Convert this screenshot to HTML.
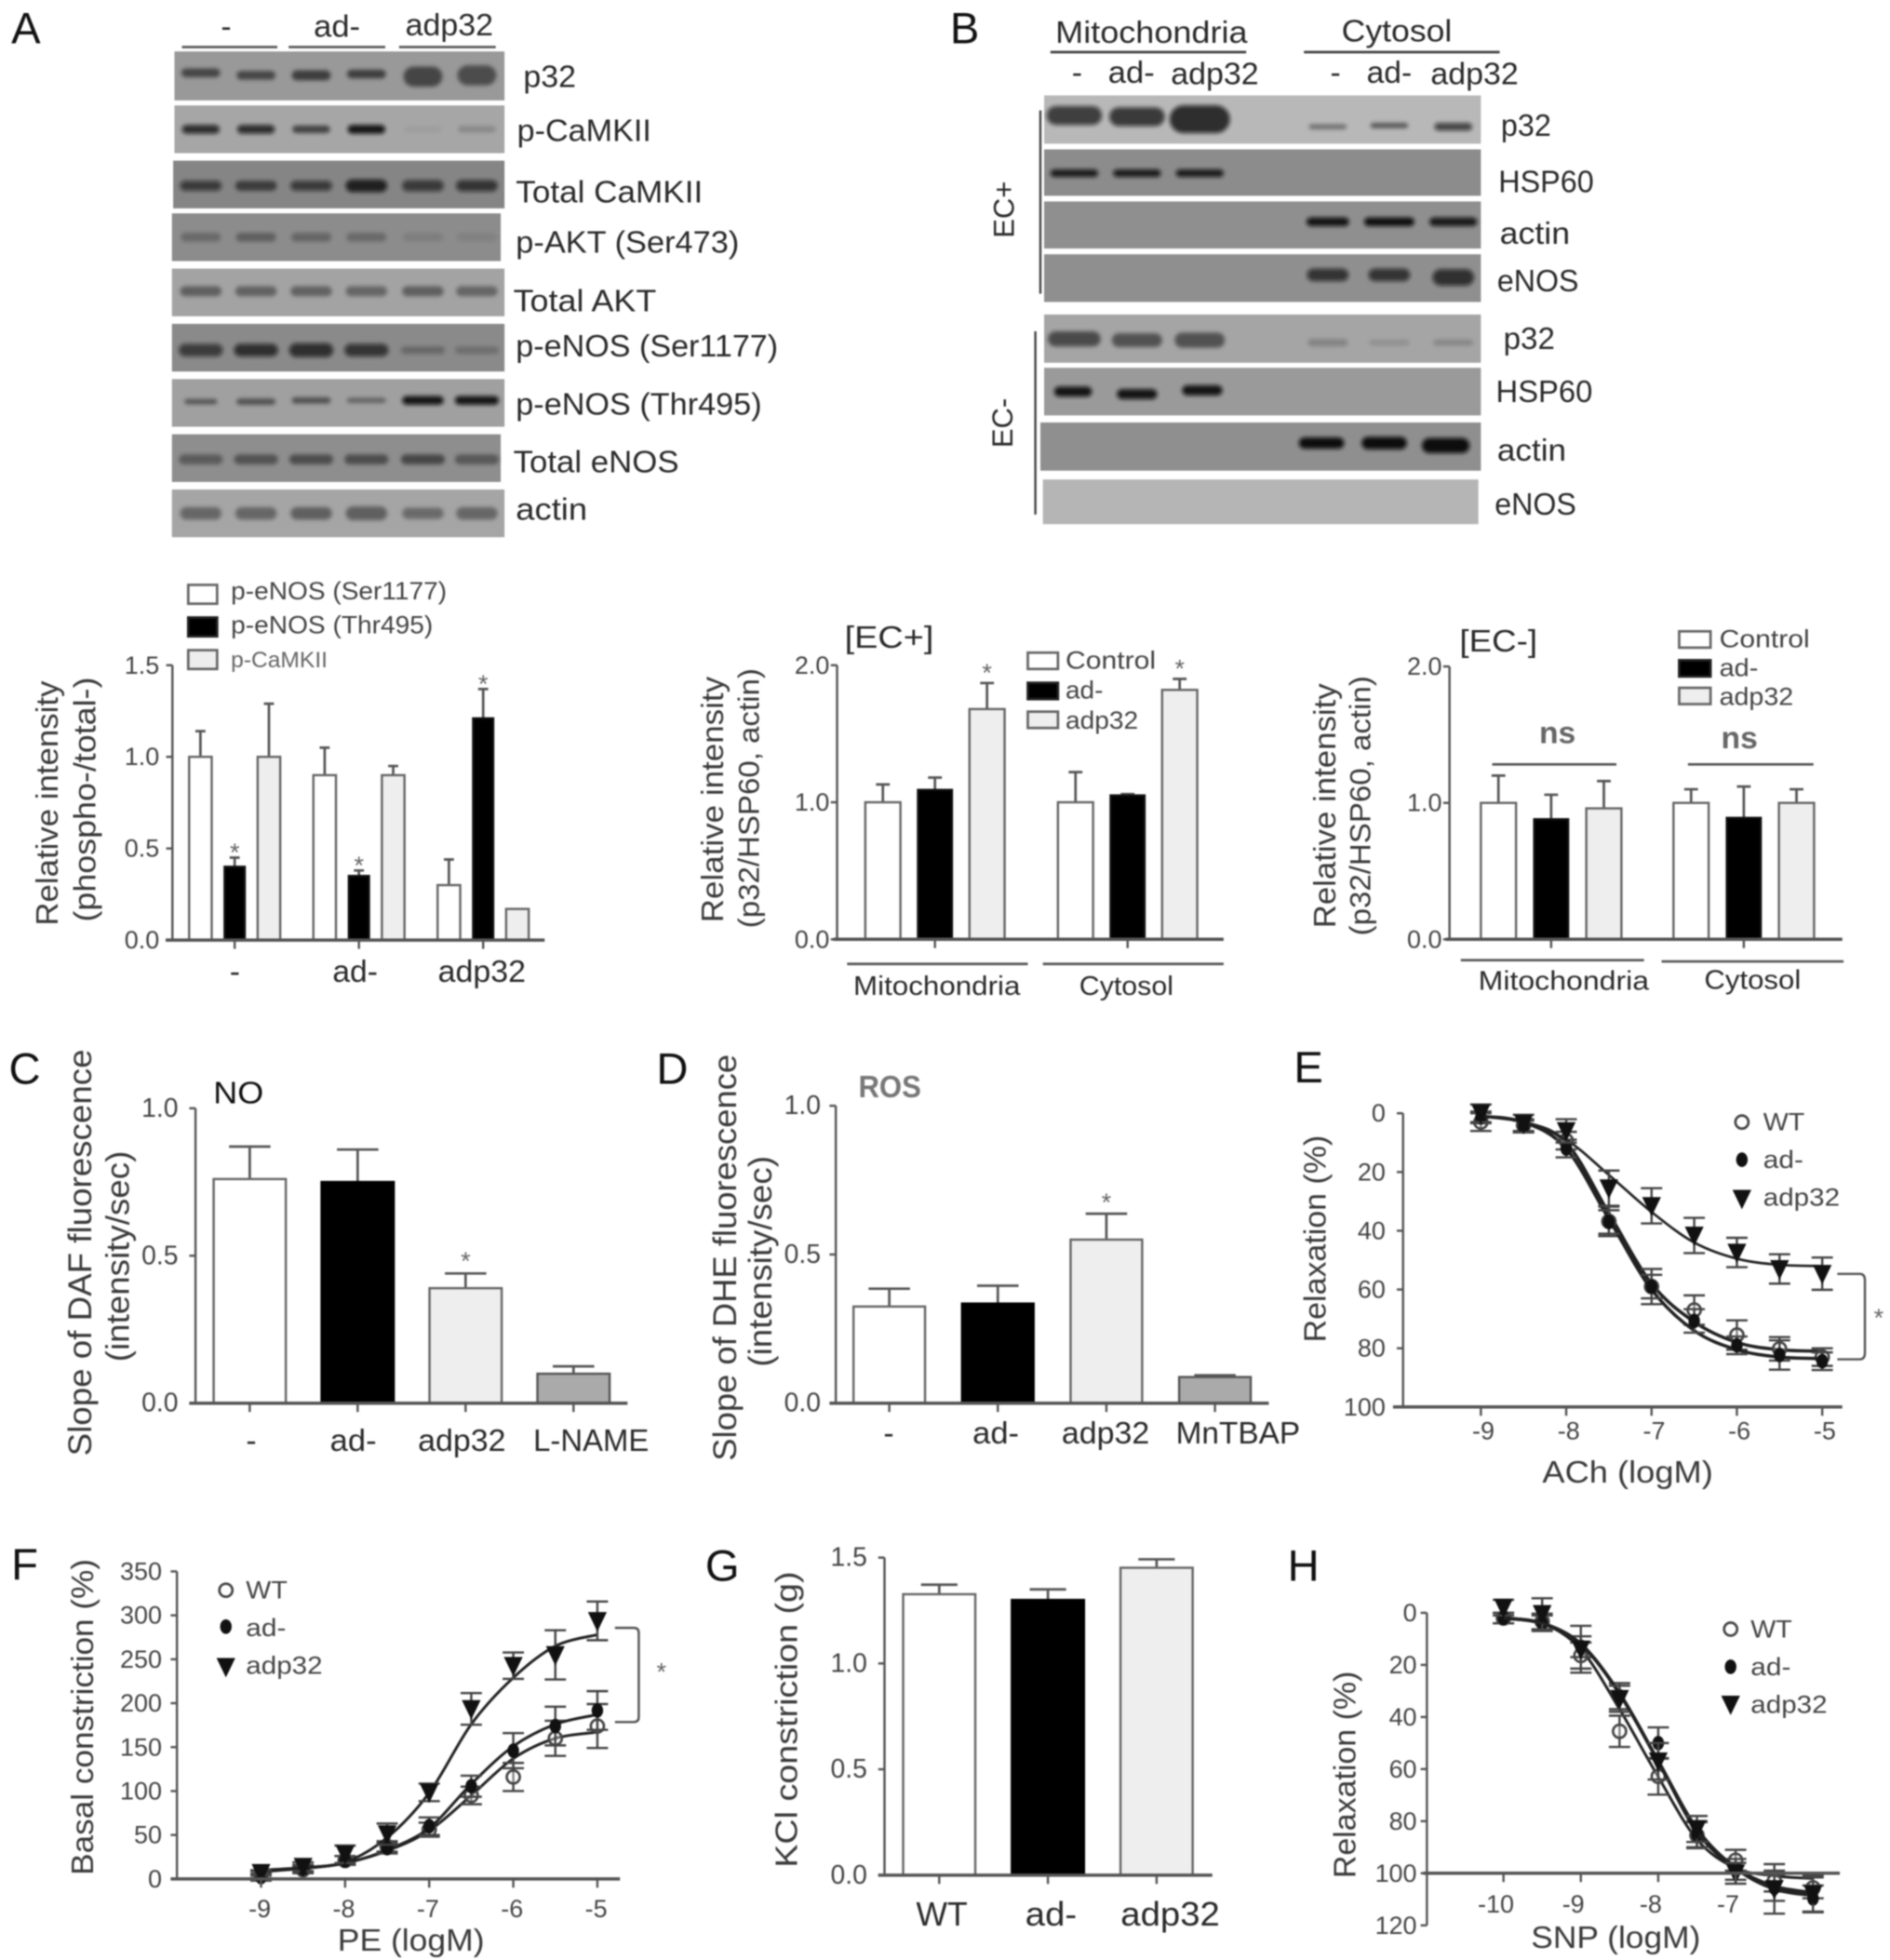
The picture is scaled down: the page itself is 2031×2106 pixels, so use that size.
<!DOCTYPE html>
<html lang="en">
<head>
<meta charset="utf-8">
<title>p32 signalling figure</title>
<style>
html,body{margin:0;padding:0;background:#fff}
#figure{display:block;width:2031px;height:2106px;filter:blur(.9px)}
text{font-family:"Liberation Sans",Arial,sans-serif;dominant-baseline:central;fill:#2a2a2a;font-size:25px}
.letter{font-size:35px;fill:#111}
.leg{font-size:20px;fill:#444}
.title{font-size:25px;fill:#3a3a3a}
</style>
</head>
<body>
<svg id="figure" xmlns="http://www.w3.org/2000/svg" viewBox="0 0 1506 1561.6" width="2031" height="2106">
<defs><filter id="bandBlur" x="-30%" y="-80%" width="160%" height="260%"><feGaussianBlur stdDeviation="1.6"/></filter></defs>
<rect width="1506" height="1562" fill="#fff"/>

<text class="letter" x="9" y="23">A</text>
<text class="letter" x="757" y="23">B</text>
<text class="letter" x="7" y="852">C</text>
<text class="letter" x="523" y="852">D</text>
<text class="letter" x="1031" y="851">E</text>
<text class="letter" x="9" y="1247">F</text>
<text class="letter" x="562" y="1248">G</text>
<text class="letter" x="1026" y="1248">H</text>

<g id="blots-a">
<text x="176" y="21">-</text>
<text x="250" y="21" textLength="37" lengthAdjust="spacingAndGlyphs">ad-</text>
<text x="323" y="20" textLength="70" lengthAdjust="spacingAndGlyphs">adp32</text>
<path d="M145 37.5H221M230 37.5H307M318 37.5H395" stroke="#555" stroke-width="2" fill="none"/>
<text x="417" y="61" textLength="42" lengthAdjust="spacingAndGlyphs">p32</text>
<text x="412" y="104" textLength="107" lengthAdjust="spacingAndGlyphs">p-CaMKII</text>
<text x="411" y="153" textLength="149" lengthAdjust="spacingAndGlyphs">Total CaMKII</text>
<text x="411" y="193" textLength="178" lengthAdjust="spacingAndGlyphs">p-AKT (Ser473)</text>
<text x="409" y="240" textLength="114" lengthAdjust="spacingAndGlyphs">Total AKT</text>
<text x="411" y="276" textLength="209" lengthAdjust="spacingAndGlyphs">p-eNOS (Ser1177)</text>
<text x="411" y="322" textLength="196" lengthAdjust="spacingAndGlyphs">p-eNOS (Thr495)</text>
<text x="409" y="368" textLength="132" lengthAdjust="spacingAndGlyphs">Total eNOS</text>
<text x="411" y="406" textLength="57" lengthAdjust="spacingAndGlyphs">actin</text>
</g>

<g id="blots-b">
<text x="841" y="26" textLength="153" lengthAdjust="spacingAndGlyphs">Mitochondria</text>
<text x="1069" y="25" textLength="88" lengthAdjust="spacingAndGlyphs">Cytosol</text>
<path d="M837 41.5H993M1039 41.5H1195" stroke="#444" stroke-width="2" fill="none"/>
<text x="854" y="58">-</text>
<text x="883" y="58" textLength="37" lengthAdjust="spacingAndGlyphs">ad-</text>
<text x="933" y="59" textLength="70" lengthAdjust="spacingAndGlyphs">adp32</text>
<text x="1060" y="58">-</text>
<text x="1089" y="58" textLength="36" lengthAdjust="spacingAndGlyphs">ad-</text>
<text x="1140" y="59" textLength="70" lengthAdjust="spacingAndGlyphs">adp32</text>
<text x="1196" y="100" textLength="40" lengthAdjust="spacingAndGlyphs">p32</text>
<text x="1194" y="145" textLength="76" lengthAdjust="spacingAndGlyphs">HSP60</text>
<text x="1195" y="186" textLength="56" lengthAdjust="spacingAndGlyphs">actin</text>
<text x="1193" y="224" textLength="65" lengthAdjust="spacingAndGlyphs">eNOS</text>
<text x="1198" y="270" textLength="41" lengthAdjust="spacingAndGlyphs">p32</text>
<text x="1192" y="312" textLength="77" lengthAdjust="spacingAndGlyphs">HSP60</text>
<text x="1193" y="359" textLength="55" lengthAdjust="spacingAndGlyphs">actin</text>
<text x="1191" y="402" textLength="65" lengthAdjust="spacingAndGlyphs">eNOS</text>
<path d="M829 88V234M825 264V410" stroke="#444" stroke-width="1.8" fill="none"/>
<text text-anchor="middle" transform="translate(800,167) rotate(-90)" font-size="23" style="font-size:23px">EC+</text>
<text text-anchor="middle" transform="translate(799,337) rotate(-90)" font-size="23" style="font-size:23px">EC-</text>
</g>

<g id="chart-a">
<text class="title" text-anchor="middle" transform="translate(38,640) rotate(-90)" textLength="195" lengthAdjust="spacingAndGlyphs">Relative intensity</text>
<text class="title" text-anchor="middle" transform="translate(68,637) rotate(-90)" textLength="195" lengthAdjust="spacingAndGlyphs">(phospho-/total-)</text>
<text x="183" y="774">-</text>
<text x="265" y="774" textLength="36" lengthAdjust="spacingAndGlyphs">ad-</text>
<text x="349" y="774" textLength="70" lengthAdjust="spacingAndGlyphs">adp32</text>
<rect x="150" y="466" width="23" height="15" fill="#fff" stroke="#666" stroke-width="2"/>
<rect x="150" y="492" width="23" height="15" fill="#000" stroke="#222" stroke-width="2"/>
<rect x="150" y="518" width="23" height="15" fill="#eee" stroke="#666" stroke-width="2"/>
<text class="leg" x="184" y="471" textLength="172" lengthAdjust="spacingAndGlyphs">p-eNOS (Ser1177)</text>
<text class="leg" x="184" y="498" textLength="161" lengthAdjust="spacingAndGlyphs">p-eNOS (Thr495)</text>
<text class="leg" x="184" y="526" textLength="77" lengthAdjust="spacingAndGlyphs" style="font-size:18px;fill:#666">p-CaMKII</text>
</g>

<g id="chart-ecp">
<text class="title" text-anchor="middle" transform="translate(568,637) rotate(-90)" textLength="196" lengthAdjust="spacingAndGlyphs">Relative intensity</text>
<text class="title" text-anchor="middle" transform="translate(597,636) rotate(-90)" textLength="207" lengthAdjust="spacingAndGlyphs" style="font-size:23px">(p32/HSP60, actin)</text>
<text x="673" y="508" textLength="71" lengthAdjust="spacingAndGlyphs">[EC+]</text>
<path d="M675 768H819M831 768H975" stroke="#555" stroke-width="2" fill="none"/>
<text x="680" y="786" textLength="133" lengthAdjust="spacingAndGlyphs" style="font-size:21px">Mitochondria</text>
<text x="860" y="786" textLength="75" lengthAdjust="spacingAndGlyphs" style="font-size:21px">Cytosol</text>
<rect x="819" y="520" width="24" height="13" fill="#fff" stroke="#666" stroke-width="2"/>
<rect x="819" y="544" width="24" height="13" fill="#000" stroke="#222" stroke-width="2"/>
<rect x="819" y="567" width="24" height="13" fill="#eee" stroke="#666" stroke-width="2"/>
<text class="leg" x="849" y="526" textLength="72" lengthAdjust="spacingAndGlyphs">Control</text>
<text class="leg" x="849" y="550" textLength="30" lengthAdjust="spacingAndGlyphs">ad-</text>
<text class="leg" x="849" y="574" textLength="58" lengthAdjust="spacingAndGlyphs">adp32</text>
</g>

<g id="chart-ecm">
<text class="title" text-anchor="middle" transform="translate(1056,642) rotate(-90)" textLength="195" lengthAdjust="spacingAndGlyphs">Relative intensity</text>
<text class="title" text-anchor="middle" transform="translate(1084,642) rotate(-90)" textLength="207" lengthAdjust="spacingAndGlyphs" style="font-size:23px">(p32/HSP60, actin)</text>
<text x="1163" y="511" textLength="62" lengthAdjust="spacingAndGlyphs">[EC-]</text>
<text x="1241" y="584" text-anchor="middle" style="fill:#666;font-weight:bold">ns</text>
<text x="1386" y="588" text-anchor="middle" style="fill:#666;font-weight:bold">ns</text>
<path d="M1189 609H1288M1345 609H1445" stroke="#555" stroke-width="2" fill="none"/>
<path d="M1164 765H1310M1324 766H1469" stroke="#555" stroke-width="2" fill="none"/>
<text x="1178" y="782" textLength="136" lengthAdjust="spacingAndGlyphs" style="font-size:21px">Mitochondria</text>
<text x="1358" y="781" textLength="77" lengthAdjust="spacingAndGlyphs" style="font-size:21px">Cytosol</text>
<rect x="1338" y="503" width="25" height="13" fill="#fff" stroke="#666" stroke-width="2"/>
<rect x="1338" y="526" width="25" height="13" fill="#000" stroke="#222" stroke-width="2"/>
<rect x="1338" y="548" width="25" height="13" fill="#eee" stroke="#666" stroke-width="2"/>
<text class="leg" x="1370" y="509" textLength="72" lengthAdjust="spacingAndGlyphs">Control</text>
<text class="leg" x="1370" y="532" textLength="31" lengthAdjust="spacingAndGlyphs">ad-</text>
<text class="leg" x="1370" y="555" textLength="59" lengthAdjust="spacingAndGlyphs">adp32</text>
</g>

<g id="chart-c">
<text class="title" text-anchor="middle" transform="translate(64,998) rotate(-90)" textLength="324" lengthAdjust="spacingAndGlyphs" style="font-size:26px">Slope of DAF fluorescence</text>
<text class="title" text-anchor="middle" transform="translate(94,1001) rotate(-90)" textLength="168" lengthAdjust="spacingAndGlyphs" style="font-size:26px">(intensity/sec)</text>
<text x="170" y="871" textLength="40" lengthAdjust="spacingAndGlyphs" style="fill:#111">NO</text>
<text x="196" y="1148">-</text>
<text x="263" y="1148" textLength="37" lengthAdjust="spacingAndGlyphs">ad-</text>
<text x="333" y="1148" textLength="70" lengthAdjust="spacingAndGlyphs">adp32</text>
<text x="425" y="1148" textLength="92" lengthAdjust="spacingAndGlyphs">L-NAME</text>
</g>

<g id="chart-d">
<text class="title" text-anchor="middle" transform="translate(578,1002) rotate(-90)" textLength="324" lengthAdjust="spacingAndGlyphs" style="font-size:26px">Slope of DHE fluorescence</text>
<text class="title" text-anchor="middle" transform="translate(606,1005) rotate(-90)" textLength="168" lengthAdjust="spacingAndGlyphs" style="font-size:26px">(intensity/sec)</text>
<text x="684" y="866" textLength="50" lengthAdjust="spacingAndGlyphs" style="fill:#777;font-weight:bold">ROS</text>
<text x="704" y="1142">-</text>
<text x="775" y="1142" textLength="37" lengthAdjust="spacingAndGlyphs">ad-</text>
<text x="846" y="1142" textLength="70" lengthAdjust="spacingAndGlyphs">adp32</text>
<text x="937" y="1142" textLength="99" lengthAdjust="spacingAndGlyphs">MnTBAP</text>
</g>

<g id="chart-e">
<text class="title" text-anchor="middle" transform="translate(1048,987) rotate(-90)" textLength="165" lengthAdjust="spacingAndGlyphs">Relaxation (%)</text>
<text class="title" x="1229" y="1173" textLength="136" lengthAdjust="spacingAndGlyphs">ACh (logM)</text>
<text class="leg" x="1405" y="894" textLength="33" lengthAdjust="spacingAndGlyphs">WT</text>
<text class="leg" x="1405" y="924" textLength="32" lengthAdjust="spacingAndGlyphs">ad-</text>
<text class="leg" x="1405" y="954" textLength="61" lengthAdjust="spacingAndGlyphs">adp32</text>
<path d="M1464 1015H1482Q1486 1015 1486 1020V1078Q1486 1083 1482 1083H1464" stroke="#555" stroke-width="1.8" fill="none"/>
<text x="1497" y="1050" text-anchor="middle" style="font-size:20px;fill:#666">*</text>
</g>

<g id="chart-f">
<text class="title" text-anchor="middle" transform="translate(66,1368) rotate(-90)" textLength="252" lengthAdjust="spacingAndGlyphs">Basal constriction (%)</text>
<text class="title" x="269" y="1546" textLength="117" lengthAdjust="spacingAndGlyphs">PE (logM)</text>
<text class="leg" x="196" y="1267" textLength="33" lengthAdjust="spacingAndGlyphs">WT</text>
<text class="leg" x="196" y="1297" textLength="32" lengthAdjust="spacingAndGlyphs">ad-</text>
<text class="leg" x="196" y="1327" textLength="61" lengthAdjust="spacingAndGlyphs">adp32</text>
<path d="M490 1297H505Q509 1297 509 1301V1368Q509 1372 505 1372H490" stroke="#555" stroke-width="1.8" fill="none"/>
<text x="527" y="1332" text-anchor="middle" style="font-size:20px;fill:#666">*</text>
</g>

<g id="chart-g">
<text class="title" text-anchor="middle" transform="translate(627,1370) rotate(-90)" textLength="236" lengthAdjust="spacingAndGlyphs">KCl constriction (g)</text>
<text x="730" y="1525" textLength="41" lengthAdjust="spacingAndGlyphs" style="font-size:27px">WT</text>
<text x="817" y="1525" textLength="41" lengthAdjust="spacingAndGlyphs" style="font-size:27px">ad-</text>
<text x="893" y="1525" textLength="79" lengthAdjust="spacingAndGlyphs" style="font-size:27px">adp32</text>
</g>

<g id="chart-h">
<text class="title" text-anchor="middle" transform="translate(1072,1414) rotate(-90)" textLength="165" lengthAdjust="spacingAndGlyphs">Relaxation (%)</text>
<text class="title" x="1220" y="1544" textLength="135" lengthAdjust="spacingAndGlyphs">SNP (logM)</text>
<text class="leg" x="1395" y="1298" textLength="33" lengthAdjust="spacingAndGlyphs">WT</text>
<text class="leg" x="1395" y="1328" textLength="32" lengthAdjust="spacingAndGlyphs">ad-</text>
<text class="leg" x="1395" y="1358" textLength="61" lengthAdjust="spacingAndGlyphs">adp32</text>
</g>
</svg>

<script>
/* ---------- chart data ---------- */
const aTickLabels = ['0.0','0.5','1.0','1.5'];
const aSer1177 = [1.0,0.9,0.3];
const aSer1177Err = [0.14,0.15,0.14];
const aThr495 = [0.4,0.35,1.21];
const aThr495Err = [0.05,0.03,0.16];
const aCaMKII = [1.0,0.9,0.17];
const aCaMKIIErr = [0.29,0.05,0];

const ecTickLabels = ['0.0','1.0','2.0'];
const ecpControl = [1.0,1.0];
const ecpControlErr = [0.13,0.22];
const ecpAd = [1.09,1.05];
const ecpAdErr = [0.09,0.01];
const ecpAdp32 = [1.68,1.82];
const ecpAdp32Err = [0.19,0.08];
const ecmControl = [1.0,1.0];
const ecmControlErr = [0.2,0.1];
const ecmAd = [0.88,0.89];
const ecmAdErr = [0.18,0.23];
const ecmAdp32 = [0.96,1.0];
const ecmAdp32Err = [0.2,0.1];

const cTickLabels = ['0.0','0.5','1.0'];
const cValues = [0.76,0.75,0.39,0.10];
const cErrors = [0.11,0.11,0.05,0.025];
const dTickLabels = ['0.0','0.5','1.0'];
const dValues = [0.325,0.335,0.55,0.088];
const dErrors = [0.06,0.06,0.087,0.006];
const gTickLabels = ['0.0','0.5','1.0','1.5'];
const gValues = [1.327,1.30,1.452];
const gErrors = [0.045,0.05,0.04];

const eYTickLabels = ['0','20','40','60','80','100'];
const eXTickLabels = ['-9','-8','-7','-6','-5'];
const eDoses = [-9,-8.5,-8,-7.5,-7,-6.5,-6,-5.5,-5];
const eWt = [3,4,9.3,36.8,59,67,75.5,80.2,83];
const eWtErr = [3,2,3,5,6,5,5,4,3];
const eWtFit = [1,3,10,34,58,71,78,80.5,81];
const eAd = [1.4,4.5,12,37,59,70.7,79,82.3,84.4];
const eAdErr = [2,2,3,4,4,4,3,5,3];
const eAdFit = [1,3,12,36,60,74,80.5,83,83.5];
const eAdp32 = [0,3.5,6,25.5,31.5,41.6,47.4,53,54.6];
const eAdp32Err = [3,3,4,6,6,6,5,5,5.5];
const eAdp32Fit = [1,3,9,21,33.6,44,49.5,51.6,52];

const fYTickLabels = ['0','50','100','150','200','250','300','350'];
const fXTickLabels = ['-9','-8','-7','-6','-5'];
const fDoses = [-9,-8.5,-8,-7.5,-7,-6.5,-6,-5.5,-5];
const fWt = [5,10.5,21,37,56,95,116,160,174];
const fWtErr = [4,4,5,6,8,10,16,20,25];
const fWtFit = [8,12,18,32,55,95,137,160,167];
const fAd = [2,12,21,35,60,105.5,146,174,191.7];
const fAdErr = [4,4,5,6,10,12,20,22,22];
const fAdFit = [9,12,18,33,58,108,151,176,187];
const fAdp32 = [7,14,28,51,98.5,193.5,242.7,255,293.7];
const fAdp32Err = [3,5,10,12,10,18,15,28,22];
const fAdp32Fit = [10,13,19,47,98,176,229,265,278];

const hYTickLabels = ['0','20','40','60','80','100','120'];
const hXTickLabels = ['-10','-9','-8','-7'];
const hDoses = [-10,-9.5,-9,-8.5,-8,-7.5,-7,-6.5,-6];
const hWt = [2,3.3,16.4,45.5,62.8,85.4,95,103,105.6];
const hWtErr = [2,3,5,6,7,5,4,4,4];
const hWtFit = [2,4,14,37,63,87,98,101,102];
const hAd = [2,4,13,32,50,85,98.5,105.6,109.7];
const hAdErr = [2,3,4,5,6,5,4,5,5];
const hAdFit = [2,4,12,31,57,83,98,106,108.5];
const hAdp32 = [-2,0.4,14,33,57,83,100,106,108];
const hAdp32Err = [3,6,9,5,7,5,4,9.5,7];
const hAdp32Fit = [2,4,12,31,57,84,98,105,107.5];

/* ---------- helpers ---------- */
const NS = 'http://www.w3.org/2000/svg';
function add(tag, attrs, parent){
  const n = document.createElementNS(NS, tag);
  for (const k in attrs) n.setAttribute(k, attrs[k]);
  parent.appendChild(n);
  return n;
}
function linear(d0, d1, r0, r1){ return v => r0 + (v - d0) / (d1 - d0) * (r1 - r0); }
const axisColor = '#555';

function yAxis(g, chart, x, y, labels, labelX, fs){
  const vals = labels.map(Number);
  const axis = add('line', {x1:x, x2:x, y1:y(Math.min(...vals)), y2:y(Math.max(...vals)), stroke:axisColor, 'stroke-width':1.8}, g);
  
  
  labels.forEach(lab => {
    const tick = add('line', {x1:x-5, x2:x, y1:y(Number(lab)), y2:y(Number(lab)), stroke:axisColor, 'stroke-width':1.8}, g);
    
    
    const t = add('text', {x:labelX, y:y(Number(lab)), 'text-anchor':'end', style:'font-size:'+fs+'px;fill:#444'}, g);
    t.textContent = lab;
    
    
  });
}
function xAxis(g, chart, y0, x1, x2, tickXs){
  const axis = add('line', {x1:x1, x2:x2, y1:y0, y2:y0, stroke:axisColor, 'stroke-width':2.6}, g);
  
  
  tickXs.forEach(tx => {
    const tick = add('line', {x1:tx, x2:tx, y1:y0, y2:y0+7, stroke:axisColor, 'stroke-width':1.8}, g);
    
    
  });
}
function bars(g, chart, series, values, errors, x, y, width, capW, fill, stroke){
  values.forEach((v, i) => {
    const cx = x(i), top = y(v + errors[i]);
    if (errors[i] > 0) {
      const err = add('path', {d:'M'+cx+' '+y(v)+'V'+top+'M'+(cx-capW/2)+' '+top+'H'+(cx+capW/2), stroke:'#555', 'stroke-width':2, fill:'none'}, g);
      
      
    }
    const b = add('rect', {x:cx-width/2, y:y(v), width:width, height:y(0)-y(v), fill:fill(i), stroke:stroke(i), 'stroke-width':1.8}, g);
    
    
  });
}
function star(g, chart, x, y){
  const s = add('text', {x:x, y:y+5, 'text-anchor':'middle', style:'font-size:20px;fill:#666'}, g);
  s.textContent = '*';
  
  
}
function smooth(pts){
  let d = 'M' + pts[0][0] + ' ' + pts[0][1];
  for (let i = 0; i < pts.length - 1; i++) {
    const p0 = pts[Math.max(i-1,0)], p1 = pts[i], p2 = pts[i+1], p3 = pts[Math.min(i+2,pts.length-1)];
    d += 'C' + (p1[0]+(p2[0]-p0[0])/6) + ' ' + (p1[1]+(p2[1]-p0[1])/6) + ' ' + (p2[0]-(p3[0]-p1[0])/6) + ' ' + (p2[1]-(p3[1]-p1[1])/6) + ' ' + p2[0] + ' ' + p2[1];
  }
  return d;
}
function marker(g, kind, x, y, chart){
  let m;
  if (kind === 'circle') m = add('circle', {cx:x, cy:y, r:5.2, fill:'#fff', 'fill-opacity':.35, stroke:'#444', 'stroke-width':2}, g);
  else if (kind === 'dot') m = add('ellipse', {cx:x, cy:y, rx:4.6, ry:5.8, fill:'#111'}, g);
  else m = add('path', {d:'M'+(x-7.5)+' '+(y-7)+'H'+(x+7.5)+'L'+x+' '+(y+8.5)+'Z', fill:'#111'}, g);
  
  
}
function doseSeries(g, chart, kind, doses, means, errs, fit, x, y, lw){
  const line = add('path', {d:smooth(doses.map((d,i)=>[x(d), y(fit[i])])), fill:'none', stroke:'#222', 'stroke-width':lw}, g);
  
  
  doses.forEach((d,i) => {
    const px = x(d), a = y(means[i]-errs[i]), b = y(means[i]+errs[i]);
    const e = add('path', {d:'M'+px+' '+a+'V'+b+'M'+(px-8.5)+' '+a+'H'+(px+8.5)+'M'+(px-8.5)+' '+b+'H'+(px+8.5), fill:'none', stroke:'#444', 'stroke-width':1.8}, g);
    
    
    marker(g, kind, px, y(means[i]), chart);
  });
}
function xTickLabels(g, chart, labels, x, labelY, dx){
  labels.forEach(lab => {
    const t = add('text', {x:x(Number(lab))+dx, y:labelY, 'text-anchor':'middle', style:'font-size:20px;fill:#444'}, g);
    t.textContent = lab;
    
    
  });
}
const byId = id => document.getElementById(id);

/* ---------- western blots ---------- */
function blot(parent, name, x, y, w, h, gray, lanes, cy, bw, bh, shade){
  const r = add('rect', {x:x, y:y, width:w, height:h, fill:gray}, parent);
  
  
  const layer = add('g', {filter:'url(#bandBlur)'}, parent);
  
  
  lanes.forEach((lx, i) => {
    const wi = Array.isArray(bw) ? bw[i] : bw, hi = Array.isArray(bh) ? bh[i] : bh;
    const cyi = Array.isArray(cy) ? cy[i] : cy;
    if (!(shade[i] > 0)) return;
    const b = add('rect', {x:lx-wi/2, y:cyi-hi/2, width:wi, height:hi, rx:hi/2, fill:'#0a0a0a', opacity:shade[i]}, layer);
    
    
  });
}
const lanesA = [160,204,248,292,337,380];
const A = byId('blots-a');
blot(A,'a-blot-p32',139,41,263,39,'#999999',lanesA,[58,60,60,59,61,60],31,[7,7,8,7,16,16],[.55,.55,.6,.6,.55,.5]);
blot(A,'a-blot-p-camkii',139,84,263,38,'#a6a6a6',lanesA,103,30,[7,7,6,7,4,5],[.8,.8,.6,.95,.06,.18]);
blot(A,'a-blot-total-camkii',138,128,264,38,'#858585',lanesA,148,33,[8,8,8,10,9,9],[.65,.55,.65,.85,.65,.7]);
blot(A,'a-blot-p-akt',137,170,262,38,'#8c8c8c',lanesA,189,32,7,[.25,.32,.28,.25,.1,.08]);
blot(A,'a-blot-total-akt',137,214,265,38,'#a3a3a3',lanesA,232,33,8,[.42,.4,.4,.38,.42,.38]);
blot(A,'a-blot-p-enos-ser',137,258,265,38,'#8a8a8a',lanesA,279,35,[10,10,11,10,6,6],[.65,.75,.75,.7,.25,.2]);
blot(A,'a-blot-p-enos-thr',137,302,265,38,'#a0a0a0',lanesA,[320,320,319,319,319,319],[26,31,31,31,33,35],[4,5,5,4,7,7],[.5,.5,.5,.4,.95,.95]);
blot(A,'a-blot-total-enos',137,346,262,38,'#8e8e8e',lanesA,366,35,8,[.36,.42,.46,.46,.5,.38]);
blot(A,'a-blot-actin',137,390,265,38,'#a5a5a5',lanesA,409,33,[10,10,10,11,9,10],[.38,.38,.42,.42,.36,.38]);

const lanesB = [856,906,956,1058,1107,1158];
const B = byId('blots-b');
blot(B,'b-blot-p32-ec-plus',832,76,348,38.5,'#b8b8b8',lanesB,[92,93,95,101,100,101],[44,44,48,30,30,30],[15,15,22,4,4,6],[.72,.75,.82,.4,.55,.7]);
blot(B,'b-blot-hsp60-ec-plus',832,119,348,37,'#8c8c8c',lanesB,138,38,6,[.9,.9,.9,0,0,0]);
blot(B,'b-blot-actin-ec-plus',832,160.5,348,37.5,'#8f8f8f',lanesB,176.7,[36,36,36,34,40,38],7,[0,0,0,.95,.98,.9]);
blot(B,'b-blot-enos-ec-plus',832,202.6,348,38,'#8f8f8f',lanesB,[220,220,220,219,219,221],33,[0,0,0,10,10,13],[0,0,0,.72,.72,.75]);
blot(B,'b-blot-p32-ec-minus',832,250.6,348,38.4,'#a5a5a5',lanesB,[270,271,271,273,273,273],[42,40,40,32,32,32],[12,11,12,6,5,5],[.55,.5,.5,.2,.12,.18]);
blot(B,'b-blot-hsp60-ec-minus',832,293,348,38,'#9a9a9a',[855,906,958],[312,314,311],[30,32,32],8,[.95,.95,.95]);
blot(B,'b-blot-actin-ec-minus',829,336.6,351,38.4,'#8f8f8f',[1053,1103,1152],[353,353,355],[36,36,38],[9,10,12],[1,1,1]);
blot(B,'b-blot-enos-ec-minus',831,382,347,35.6,'#b5b5b5',[],0,0,0,[]);

/* ---------- panel A bars ---------- */
(function(){
  const g = byId('chart-a');
  const y = linear(0,1.5,749,530);
  const x = s => i => 187 + 99*i + 27.3*(s-1);
  const white = () => '#fff', black = () => '#000', light = () => '#eee';
  const gs = () => '#666', bs = () => '#111';
  bars(g,'a','ser1177',aSer1177,aSer1177Err,x(0),y,18,8,white,gs);
  bars(g,'a','thr495',aThr495,aThr495Err,x(1),y,16,8,black,bs);
  bars(g,'a','camkii',aCaMKII,aCaMKIIErr,x(2),y,18,8,light,gs);
  yAxis(g,'a',137.4,y,aTickLabels,127,20);
  xAxis(g,'a',y(0),132,434,aSer1177.map((_,i)=>x(1)(i)));
  aThr495.forEach((v,i)=>star(g,'a',x(1)(i),y(v+aThr495Err[i])-9));
})();

/* ---------- EC+ / EC- bars ---------- */
function ecChart(id, name, axisX, xEnd, cx0, slot, ctl, ctlE, ad, adE, adp, adpE, yTop){
  const g = byId(id);
  const y = linear(0,2,748.4,yTop);
  const x = s => i => cx0 + 153.5*i + slot*(s-1);
  bars(g,name,'control',ctl,ctlE,x(0),y,28,11,()=>'#fff',()=>'#666');
  bars(g,name,'ad',ad,adE,x(1),y,27,11,()=>'#000',()=>'#111');
  bars(g,name,'adp32',adp,adpE,x(2),y,28,11,()=>'#eee',()=>'#666');
  yAxis(g,name,axisX,y,ecTickLabels,axisX-6,20);
  xAxis(g,name,y(0),axisX-3,xEnd,ctl.map((_,i)=>x(1)(i)));
  return {g:g,x:x,y:y};
}
const ecp = ecChart('chart-ecp','ecp',667,975,745,41.5,ecpControl,ecpControlErr,ecpAd,ecpAdErr,ecpAdp32,ecpAdp32Err,530);
ecpAdp32.forEach((v,i)=>star(ecp.g,'ecp',ecp.x(2)(i),ecp.y(v+ecpAdp32Err[i])-13));
ecChart('chart-ecm','ecm',1155,1468,1236,42,ecmControl,ecmControlErr,ecmAd,ecmAdErr,ecmAdp32,ecmAdp32Err,531);

/* ---------- C, D, G bars ---------- */
function singleBars(id, name, vals, errs, labels, yTopVal, y0, yTop, axisX, xEnd, cx0, step, w, capW, fills, strokes, labelX, fs){
  const g = byId(id);
  const y = linear(0,yTopVal,y0,yTop);
  const x = i => cx0 + step*i;
  bars(g,name,'group',vals,errs,x,y,w,capW,i=>fills[i],i=>strokes[i]);
  yAxis(g,name,axisX,y,labels,labelX,fs);
  xAxis(g,name,y(0),axisX-5,xEnd,vals.map((_,i)=>x(i)));
  return {g:g,x:x,y:y};
}
const cChart = singleBars('chart-c','c',cValues,cErrors,cTickLabels,1,1118,883,155.8,500,199,86,57.5,33,['#fff','#000','#eee','#aaa'],['#666','#000','#666','#555'],142,21);
star(cChart.g,'c',cChart.x(2),cChart.y(cValues[2]+cErrors[2])-15);
const dChart = singleBars('chart-d','d',dValues,dErrors,dTickLabels,1,1118,881,666,1011,708.6,86.5,57,33,['#fff','#000','#eee','#aaa'],['#666','#000','#666','#555'],654,21);
star(dChart.g,'d',dChart.x(2),dChart.y(dValues[2]+dErrors[2])-14);
singleBars('chart-g','g',gValues,gErrors,gTickLabels,1.5,1494,1241,704.8,966,748.4,86.6,57.5,29,['#fff','#000','#eee'],['#666','#000','#666'],691,21);

/* ---------- dose response panels ---------- */
(function(){
  const g = byId('chart-e');
  const y = linear(0,100,887,1121);
  const x = linear(-9,-5,1180,1452);
  doseSeries(g,'e','circle',eDoses,eWt,eWtErr,eWtFit,x,y,2.6);
  doseSeries(g,'e','dot',eDoses,eAd,eAdErr,eAdFit,x,y,2.6);
  doseSeries(g,'e','triangle',eDoses,eAdp32,eAdp32Err,eAdp32Fit,x,y,2);
  yAxis(g,'e',1118,y,eYTickLabels,1104,20);
  xAxis(g,'e',y(100),1110,1468,eXTickLabels.map(l=>x(Number(l))));
  xTickLabels(g,'e',eXTickLabels,x,1140,2);
  marker(g,'circle',1388,894,'e-legend');
  marker(g,'dot',1388,924,'e-legend');
  marker(g,'triangle',1388,955,'e-legend');
})();
(function(){
  const g = byId('chart-f');
  const y = linear(0,350,1497,1252);
  const x = linear(-9,-5,208,476);
  doseSeries(g,'f','circle',fDoses,fWt,fWtErr,fWtFit,x,y,2.2);
  doseSeries(g,'f','dot',fDoses,fAd,fAdErr,fAdFit,x,y,2.2);
  doseSeries(g,'f','triangle',fDoses,fAdp32,fAdp32Err,fAdp32Fit,x,y,2.2);
  yAxis(g,'f',141,y,fYTickLabels,129,20);
  xAxis(g,'f',y(0),136,494,fXTickLabels.map(l=>x(Number(l))));
  xTickLabels(g,'f',fXTickLabels,x,1521,-1);
  marker(g,'circle',180,1267,'f-legend');
  marker(g,'dot',180,1296,'f-legend');
  marker(g,'triangle',180,1328,'f-legend');
})();
(function(){
  const g = byId('chart-h');
  const y = linear(0,120,1285,1534);
  const x = linear(-10,-7,1198,1383);
  doseSeries(g,'h','circle',hDoses,hWt,hWtErr,hWtFit,x,y,2.2);
  doseSeries(g,'h','dot',hDoses,hAd,hAdErr,hAdFit,x,y,2.8);
  doseSeries(g,'h','triangle',hDoses,hAdp32,hAdp32Err,hAdp32Fit,x,y,2.8);
  yAxis(g,'h',1137,y,hYTickLabels,1129,20);
  xAxis(g,'h',y(100),1134,1466,hXTickLabels.map(l=>x(Number(l))));
  xTickLabels(g,'h',hXTickLabels,x,1517,-6);
  marker(g,'circle',1379,1298,'h-legend');
  marker(g,'dot',1379,1328,'h-legend');
  marker(g,'triangle',1379,1358,'h-legend');
})();
</script>
</body>
</html>
